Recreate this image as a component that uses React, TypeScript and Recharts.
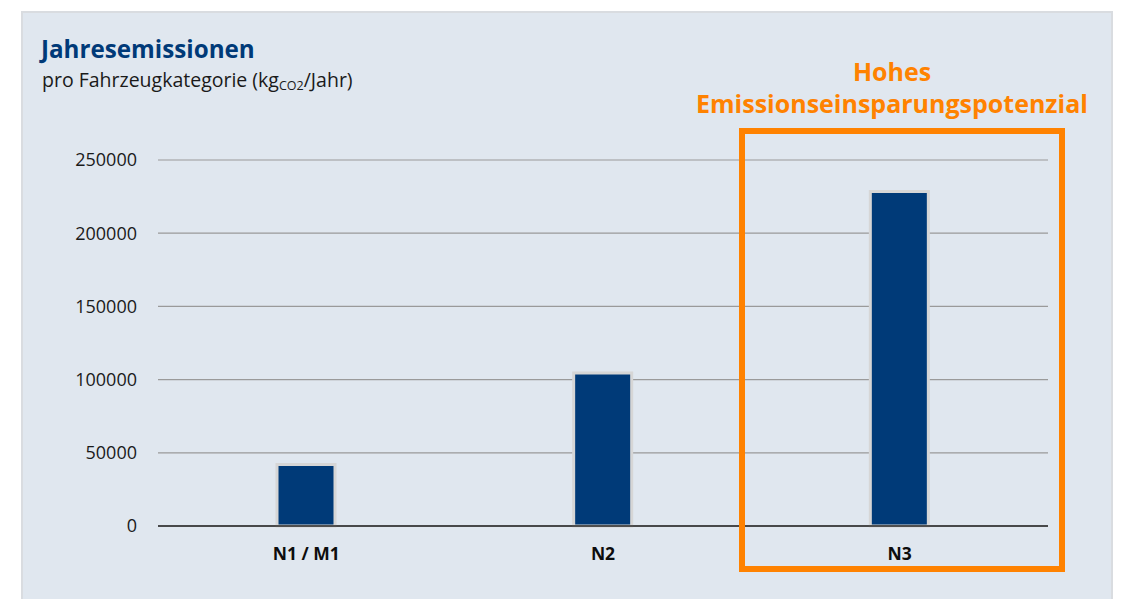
import React from 'react';
import { BarChart, Bar, XAxis, YAxis, CartesianGrid } from 'recharts';

// Annual CO2 emissions per vehicle category (kg CO2 / year)
const categories: string[] = ['N1 / M1', 'N2', 'N3'];
const emissions: number[] = [42000, 104500, 228500];
const yTicks: number[] = [0, 50000, 100000, 150000, 200000, 250000];

const data = categories.map((name, i) => ({ name, value: emissions[i] }));

const FONT = '"Open Sans", "Noto Sans", sans-serif';
const NAVY = '#003A78';
const ORANGE = '#FF8200';

export default function App() {
  return (
    <div style={{ position: 'absolute', left: 0, top: 0, width: 1122, height: 599, overflow: 'hidden', background: '#ffffff', fontFamily: FONT }}>
      {/* panel */}
      <div
        style={{
          position: 'absolute',
          left: 21,
          top: 11,
          width: 1088,
          height: 600,
          background: '#E0E7EF',
          borderLeft: '2px solid #D9DCE0',
          borderTop: '2px solid #D9DCE0',
          borderRight: '2px solid #D9DCE0',
        }}
      />
      {/* heading */}
      <div style={{ position: 'absolute', left: 41, top: 34, fontSize: 24.2, fontWeight: 700, color: NAVY, whiteSpace: 'nowrap', lineHeight: '30px' }}>
        Jahresemissionen
      </div>
      <div style={{ position: 'absolute', left: 42, top: 67, fontSize: 19.5, color: '#1a1a1a', whiteSpace: 'nowrap', lineHeight: '26px' }}>
        pro Fahrzeugkategorie (kg<sub style={{ fontSize: 12.5, verticalAlign: '-3px', lineHeight: 0 }}>CO2</sub>/Jahr)
      </div>
      {/* highlight note */}
      <div style={{ position: 'absolute', left: 692, width: 400, top: 55, textAlign: 'center', fontSize: 25, fontWeight: 700, color: ORANGE, lineHeight: '32px', whiteSpace: 'nowrap' }}>
        Hohes
        <br />
        Emissionseinsparungspotenzial
      </div>
      <div style={{ position: 'absolute', left: 0, top: 0 }}>
        <BarChart
          width={1122}
          height={599}
          data={data}
          margin={{ top: 160, right: 74, bottom: 43, left: 0 }}
          barCategoryGap="40%"
        >
          <CartesianGrid vertical={false} stroke="#9A9A9A" strokeWidth={1.2} />
          <XAxis
            dataKey="name"
            height={30}
            tickLine={false}
            tickSize={0}
            tickMargin={22}
            axisLine={{ stroke: '#222222', strokeWidth: 1.5 }}
            tick={{ fill: '#0d0d0d', fontSize: 17.5, fontWeight: 700, fontFamily: FONT }}
          />
          <YAxis
            width={158}
            domain={[0, 250000]}
            ticks={yTicks}
            interval={0}
            axisLine={false}
            tickLine={false}
            tickSize={0}
            tickMargin={21}
            tick={{ fill: '#1a1a1a', fontSize: 18, fontFamily: FONT }}
          />
          <Bar
            dataKey="value"
            barSize={58}
            fill={NAVY}
            stroke="#D6D6D6"
            strokeWidth={3}
            isAnimationActive={false}
          />
        </BarChart>
      </div>
      {/* highlight frame around N3 */}
      <div
        style={{
          position: 'absolute',
          left: 739,
          top: 128,
          width: 326 - 12,
          height: 444 - 12,
          border: `6px solid ${ORANGE}`,
        }}
      />
    </div>
  );
}
